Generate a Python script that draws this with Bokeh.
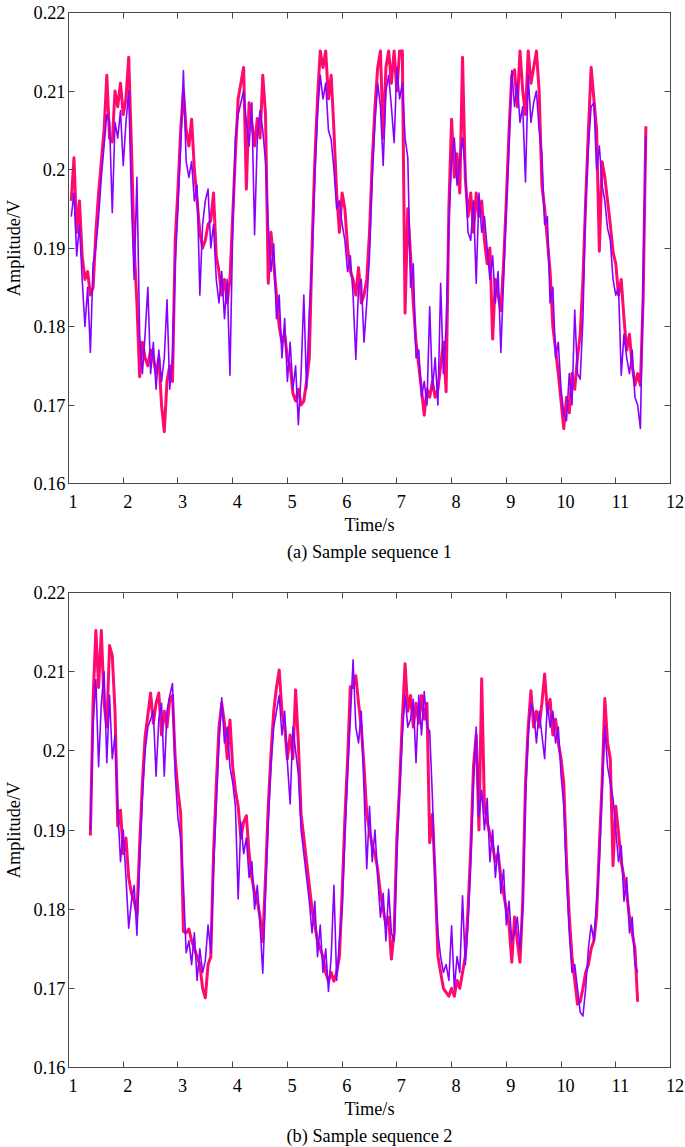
import numpy as np
from bokeh.plotting import figure
from bokeh.models import LinearAxis, FixedTicker, Title, CustomJSTickFormatter, Range1d
from bokeh.layouts import column
from bokeh.embed import file_html
from bokeh.resources import INLINE

# ---------------- data ----------------
x_ticks = [1, 2, 3, 4, 5, 6, 7, 8, 9, 10, 11, 12]
x_tick_labels = ["1", "2", "3", "4", "5", "6", "7", "8", "9", "10", "11", "12"]
y_ticks = [0.16, 0.17, 0.18, 0.19, 0.2, 0.21, 0.22]
y_tick_labels = ["0.16", "0.17", "0.18", "0.19", "0.2", "0.21", "0.22"]

captions = ["(a) Sample sequence 1", "(b) Sample sequence 2"]
x_title = "Time/s"
y_title = "Amplitude/V"

sample_step = 0.05          # s between samples
a_start = 1.05              # s, first sample of sequence 1
b_start = 1.40              # s, first sample of sequence 2

# sequence 1 (pink = thick trace, purple = thin trace), V
a_pink = [
    0.196, 0.2015, 0.192, 0.196, 0.189, 0.186, 0.187, 0.184, 0.185, 0.192,
    0.197, 0.201, 0.205, 0.212, 0.204, 0.2035, 0.210, 0.208, 0.211, 0.207,
    0.209, 0.2143, 0.203, 0.190, 0.183, 0.1736, 0.178, 0.176, 0.175, 0.177,
    0.176, 0.174, 0.176, 0.170, 0.1666, 0.173, 0.175, 0.173, 0.191, 0.1975,
    0.205, 0.2101, 0.205, 0.203, 0.2064, 0.200, 0.196, 0.192, 0.190, 0.191,
    0.193, 0.1935, 0.197, 0.189, 0.187, 0.184, 0.186, 0.183, 0.186, 0.194,
    0.202, 0.209, 0.211, 0.213, 0.1975, 0.2085, 0.206, 0.203, 0.2065, 0.204,
    0.212, 0.207, 0.1855, 0.192, 0.188, 0.184, 0.180, 0.178, 0.179, 0.176,
    0.175, 0.1715, 0.1705, 0.172, 0.170, 0.1705, 0.173, 0.176, 0.190, 0.201,
    0.209, 0.2151, 0.213, 0.2151, 0.209, 0.212, 0.205, 0.197, 0.192, 0.197,
    0.195, 0.190, 0.187, 0.186, 0.184, 0.1875, 0.183, 0.184, 0.186, 0.192,
    0.201, 0.208, 0.213, 0.2151, 0.204, 0.213, 0.2151, 0.211, 0.2151, 0.210,
    0.2151, 0.2151, 0.1817, 0.195, 0.189, 0.183, 0.178, 0.175, 0.172, 0.1687,
    0.172, 0.171, 0.173, 0.171, 0.172, 0.175, 0.178, 0.1717, 0.195, 0.2064,
    0.199, 0.202, 0.197, 0.2143, 0.199, 0.194, 0.197, 0.192, 0.197, 0.194,
    0.196, 0.191, 0.188, 0.190, 0.1784, 0.186, 0.184, 0.182, 0.188, 0.196,
    0.205, 0.212, 0.2127, 0.208, 0.2151, 0.210, 0.207, 0.2151, 0.211, 0.213,
    0.2151, 0.210, 0.198, 0.195, 0.191, 0.187, 0.180, 0.1771, 0.174, 0.1705,
    0.167, 0.171, 0.169, 0.174, 0.172, 0.176, 0.179, 0.186, 0.196, 0.205,
    0.213, 0.209, 0.205, 0.1896, 0.201, 0.199, 0.196, 0.193, 0.1895, 0.188,
    0.184, 0.186, 0.181, 0.177, 0.179, 0.175, 0.1725, 0.174, 0.1725, 0.1835,
    0.2055,
]
a_purple = [
    0.194, 0.197, 0.189, 0.193, 0.186, 0.180, 0.185, 0.1767, 0.188, 0.190,
    0.194, 0.199, 0.203, 0.207, 0.206, 0.1945, 0.206, 0.204, 0.2075, 0.2005,
    0.206, 0.210, 0.196, 0.186, 0.199, 0.179, 0.174, 0.179, 0.185, 0.174,
    0.178, 0.172, 0.177, 0.173, 0.176, 0.1834, 0.172, 0.176, 0.188, 0.195,
    0.203, 0.2126, 0.201, 0.199, 0.201, 0.196, 0.198, 0.184, 0.193, 0.196,
    0.1975, 0.190, 0.193, 0.186, 0.183, 0.187, 0.181, 0.186, 0.1738, 0.192,
    0.204, 0.207, 0.2085, 0.210, 0.206, 0.203, 0.2085, 0.1917, 0.204, 0.2075,
    0.205, 0.201, 0.193, 0.187, 0.1905, 0.181, 0.184, 0.176, 0.181, 0.173,
    0.178, 0.172, 0.175, 0.1675, 0.174, 0.184, 0.172, 0.182, 0.188, 0.199,
    0.207, 0.212, 0.209, 0.211, 0.205, 0.2038, 0.200, 0.195, 0.196, 0.193,
    0.191, 0.187, 0.189, 0.184, 0.1758, 0.185, 0.186, 0.178, 0.183, 0.189,
    0.199, 0.206, 0.211, 0.208, 0.2005, 0.210, 0.212, 0.208, 0.2034, 0.213,
    0.209, 0.211, 0.204, 0.2015, 0.185, 0.188, 0.176, 0.177, 0.171, 0.173,
    0.170, 0.1825, 0.172, 0.176, 0.170, 0.1855, 0.174, 0.180, 0.193, 0.201,
    0.204, 0.198, 0.201, 0.204, 0.200, 0.192, 0.191, 0.196, 0.1855, 0.197,
    0.192, 0.194, 0.190, 0.186, 0.189, 0.183, 0.187, 0.1767, 0.186, 0.195,
    0.203, 0.2126, 0.208, 0.211, 0.206, 0.208, 0.1984, 0.212, 0.206, 0.2085,
    0.210, 0.205, 0.202, 0.193, 0.194, 0.183, 0.185, 0.176, 0.178, 0.172,
    0.169, 0.168, 0.174, 0.170, 0.1821, 0.174, 0.1733, 0.181, 0.1959, 0.203,
    0.208, 0.2085, 0.200, 0.203, 0.198, 0.196, 0.1925, 0.191, 0.186, 0.184,
    0.185, 0.1738, 0.179, 0.176, 0.174, 0.177, 0.171, 0.170, 0.167, 0.186,
    0.2043,
]

# sequence 2, V
b_pink = [
    0.1893, 0.2065, 0.2152, 0.208, 0.2152, 0.206, 0.203, 0.2133, 0.212, 0.205,
    0.1905, 0.1925, 0.187, 0.189, 0.184, 0.182, 0.181, 0.1793, 0.188, 0.196,
    0.2018, 0.2045, 0.2073, 0.2035, 0.206, 0.2073, 0.202, 0.205, 0.203, 0.2065,
    0.207, 0.199, 0.195, 0.192, 0.1772, 0.177, 0.1775, 0.176, 0.175, 0.174,
    0.173, 0.170, 0.1688, 0.173, 0.174, 0.187, 0.1956, 0.203, 0.206, 0.2035,
    0.199, 0.2039, 0.198, 0.195, 0.193, 0.189, 0.191, 0.1918, 0.187, 0.184,
    0.182, 0.181, 0.179, 0.1759, 0.184, 0.193, 0.1997, 0.205, 0.208, 0.2102,
    0.205, 0.203, 0.199, 0.202, 0.199, 0.2077, 0.201, 0.192, 0.189, 0.186,
    0.183, 0.180, 0.178, 0.176, 0.175, 0.174, 0.172, 0.1709, 0.172, 0.1709,
    0.172, 0.174, 0.182, 0.1914, 0.199, 0.2081, 0.208, 0.2095, 0.206, 0.203,
    0.198, 0.192, 0.190, 0.188, 0.187, 0.185, 0.182, 0.180, 0.178, 0.179,
    0.1737, 0.177, 0.189, 0.1956, 0.204, 0.2110, 0.205, 0.207, 0.203, 0.206,
    0.2035, 0.207, 0.204, 0.206, 0.1884, 0.192, 0.184, 0.1741, 0.172, 0.170,
    0.1695, 0.169, 0.170, 0.169, 0.171, 0.170, 0.172, 0.174, 0.180, 0.1876,
    0.198, 0.202, 0.190, 0.2091, 0.193, 0.191, 0.1895, 0.188, 0.186, 0.187,
    0.184, 0.182, 0.180, 0.178, 0.1733, 0.179, 0.176, 0.1733, 0.181, 0.1959,
    0.203, 0.2076, 0.203, 0.205, 0.203, 0.206, 0.2097, 0.205, 0.2065, 0.202,
    0.204, 0.201, 0.199, 0.1959, 0.186, 0.1792, 0.174, 0.171, 0.168, 0.1683,
    0.170, 0.172, 0.173, 0.175, 0.176, 0.1792, 0.188, 0.1959, 0.2066, 0.201,
    0.199, 0.1855, 0.193, 0.1897, 0.186, 0.184, 0.182, 0.179, 0.177, 0.175,
    0.1683,
]
b_purple = [
    0.190, 0.2035, 0.209, 0.198, 0.206, 0.210, 0.1985, 0.207, 0.199, 0.202,
    0.193, 0.186, 0.190, 0.184, 0.1776, 0.181, 0.183, 0.1767, 0.186, 0.194,
    0.200, 0.203, 0.204, 0.205, 0.1968, 0.204, 0.206, 0.1968, 0.205, 0.207,
    0.2085, 0.197, 0.1915, 0.189, 0.183, 0.1745, 0.176, 0.173, 0.177, 0.171,
    0.175, 0.172, 0.1735, 0.178, 0.1745, 0.185, 0.193, 0.201, 0.2067, 0.201,
    0.203, 0.198, 0.196, 0.193, 0.1813, 0.191, 0.187, 0.189, 0.184, 0.186,
    0.180, 0.183, 0.178, 0.1719, 0.182, 0.191, 0.198, 0.203, 0.205, 0.207,
    0.202, 0.205, 0.1985, 0.1933, 0.203, 0.200, 0.197, 0.190, 0.187, 0.184,
    0.181, 0.177, 0.181, 0.174, 0.178, 0.172, 0.175, 0.1696, 0.174, 0.183,
    0.171, 0.176, 0.180, 0.189, 0.197, 0.204, 0.2115, 0.203, 0.201, 0.205,
    0.195, 0.1851, 0.193, 0.186, 0.190, 0.184, 0.179, 0.182, 0.176, 0.1825,
    0.177, 0.176, 0.187, 0.195, 0.202, 0.207, 0.203, 0.204, 0.2065, 0.1985,
    0.207, 0.202, 0.2075, 0.203, 0.2025, 0.194, 0.183, 0.177, 0.174, 0.172,
    0.173, 0.171, 0.1779, 0.170, 0.174, 0.172, 0.1817, 0.173, 0.178, 0.186,
    0.196, 0.203, 0.1917, 0.195, 0.190, 0.194, 0.186, 0.190, 0.184, 0.188,
    0.182, 0.185, 0.178, 0.181, 0.176, 0.177, 0.179, 0.175, 0.180, 0.194,
    0.202, 0.206, 0.205, 0.201, 0.205, 0.202, 0.199, 0.206, 0.203, 0.205,
    0.201, 0.203, 0.197, 0.193, 0.184, 0.177, 0.172, 0.173, 0.170, 0.167,
    0.1665, 0.170, 0.175, 0.178, 0.176, 0.181, 0.186, 0.195, 0.203, 0.198,
    0.196, 0.194, 0.190, 0.186, 0.188, 0.181, 0.184, 0.177, 0.179, 0.173,
    0.172,
]

# ---------------- style ----------------
FONT = "Liberation Serif"
FS = "18.3px"
PINK = "#FF0A6E"
PURPLE = "#8A00FF"
AXIS_COLOR = "#4a4a4a"
PAD = "\u00a0\u00a0"   # nudges x tick labels right of their ticks, as in the original


def blank_axis(ticks):
    return LinearAxis(
        ticker=FixedTicker(ticks=ticks),
        formatter=CustomJSTickFormatter(code="return '';"),
        major_label_text_font_size="0px",
        major_label_standoff=0,
        major_tick_in=6, major_tick_out=0,
        minor_tick_in=0, minor_tick_out=0,
        axis_line_color=AXIS_COLOR, major_tick_line_color=AXIS_COLOR,
    )


def make_panel(caption, t0, pink, purple, height, top, bottom):
    p = figure(width=685, height=height,
               x_range=Range1d(1, 12), y_range=Range1d(0.16, 0.22),
               output_backend="svg", toolbar_location=None,
               min_border_left=64, min_border_right=15,
               min_border_top=top, min_border_bottom=bottom,
               background_fill_color="white", border_fill_color="white")
    p.grid.visible = False
    p.outline_line_color = AXIS_COLOR

    tp = t0 + sample_step * np.arange(len(pink))
    tq = t0 + sample_step * np.arange(len(purple))
    p.line(tp, pink, line_color=PINK, line_width=3.0, line_join="round")
    p.line(tq, purple, line_color=PURPLE, line_width=1.6, line_join="round")

    xa = p.xaxis[0]
    xa.ticker = FixedTicker(ticks=x_ticks)
    xa.major_label_overrides = {k: PAD + s for k, s in zip(x_ticks, x_tick_labels)}
    xa.axis_label = x_title
    ya = p.yaxis[0]
    ya.ticker = FixedTicker(ticks=y_ticks)
    ya.major_label_overrides = dict(zip(y_ticks, y_tick_labels))
    ya.axis_label = y_title
    for ax in (xa, ya):
        ax.major_tick_in = 6
        ax.major_tick_out = 0
        ax.minor_tick_in = 0
        ax.minor_tick_out = 0
        ax.axis_line_color = AXIS_COLOR
        ax.major_tick_line_color = AXIS_COLOR
        ax.major_label_text_font = FONT
        ax.major_label_text_font_size = FS
        ax.major_label_text_color = "black"
        ax.axis_label_text_font = FONT
        ax.axis_label_text_font_size = FS
        ax.axis_label_text_font_style = "normal"
        ax.axis_label_text_color = "black"
    xa.major_label_standoff = 8
    xa.axis_label_standoff = 0
    ya.major_label_standoff = 3
    ya.axis_label_standoff = 7

    p.add_layout(blank_axis(x_ticks), "above")
    p.add_layout(blank_axis(y_ticks), "right")

    p.add_layout(Title(text=caption, align="center", text_font=FONT,
                       text_font_size=FS, text_font_style="normal",
                       text_color="black", standoff=4), "below")
    return p


p1 = make_panel(captions[0], a_start, a_pink, a_purple, height=580, top=12, bottom=97)
p2 = make_panel(captions[1], b_start, b_pink, b_purple, height=567, top=12, bottom=76)

p = column(p1, p2, spacing=0)
open("out.html", "w").write(file_html(p, INLINE))
